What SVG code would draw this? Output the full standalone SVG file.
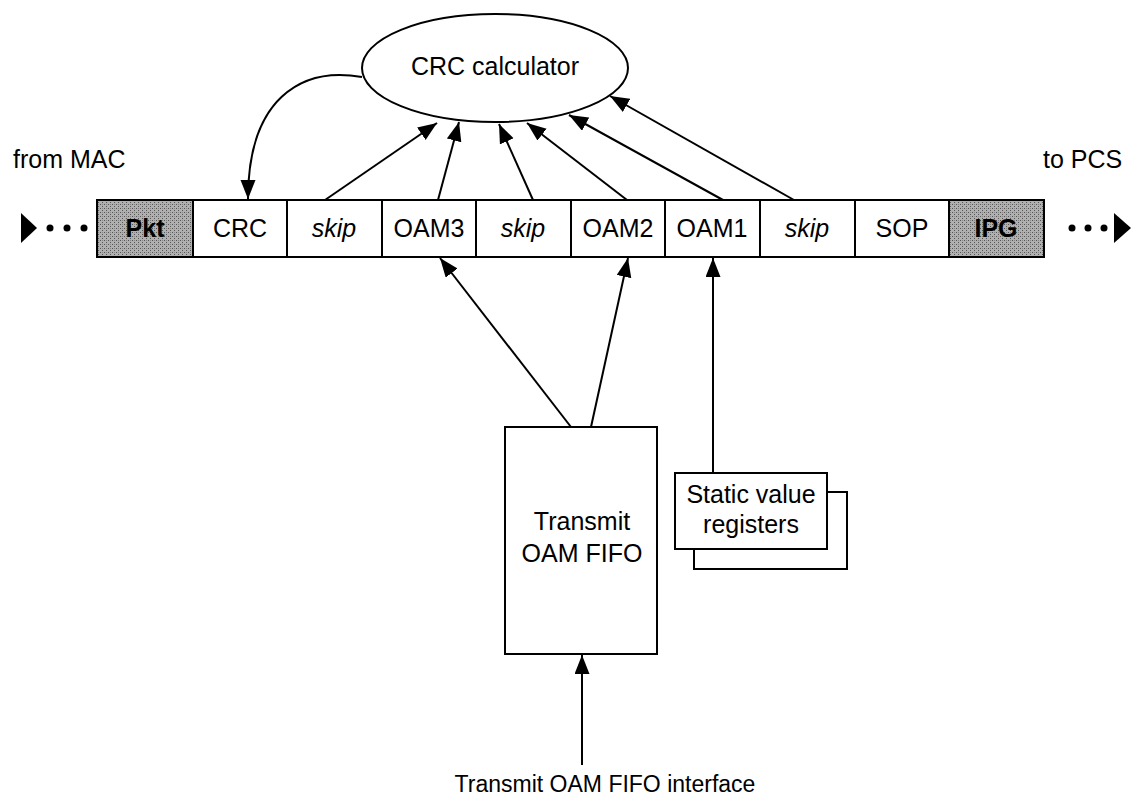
<svg xmlns="http://www.w3.org/2000/svg" width="1133" height="798" viewBox="0 0 1133 798">
<style>
text{font-family:"Liberation Sans",Arial,sans-serif;font-size:25px;fill:#000}
.c{text-anchor:middle}
.cell{fill:#fff;stroke:#000;stroke-width:2}
.shade{fill:url(#dith);stroke:#000;stroke-width:2}
.ln{fill:none;stroke:#000;stroke-width:2}
.box{fill:#fff;stroke:#000;stroke-width:2}
</style>
<defs>
<marker id="ah" markerUnits="userSpaceOnUse" markerWidth="22" markerHeight="16" refX="19" refY="7.5" orient="auto">
<path d="M0,0 L19,7.5 L0,15 Z" fill="#000"/>
</marker>
<pattern id="dith" width="4" height="4" patternUnits="userSpaceOnUse">
<rect width="4" height="4" fill="#b0b0b0"/>
<rect x="0" y="0" width="1" height="1" fill="#555"/>
<rect x="2" y="2" width="1" height="1" fill="#555"/>
<rect x="2" y="0" width="1" height="1" fill="#888"/>
</pattern>
</defs>

<g id="from-mac"><text x="13" y="168">from MAC</text></g>
<g id="to-pcs"><text x="1043" y="168">to PCS</text></g>

<g id="left-dots">
<polygon points="21,213 37,228 21,243" fill="#000"/>
<circle cx="50" cy="228" r="3.5"/><circle cx="67" cy="228" r="3.5"/><circle cx="84" cy="228" r="3.5"/>
</g>
<g id="right-dots">
<circle cx="1072" cy="228" r="3.5"/><circle cx="1088" cy="228" r="3.5"/><circle cx="1104" cy="228" r="3.5"/>
<polygon points="1114,213 1131,228 1114,243" fill="#000"/>
</g>

<g id="cell-pkt"><rect class="shade" x="97" y="200" width="96" height="57"/><text class="c" x="145" y="237" font-weight="bold">Pkt</text></g>
<g id="cell-crc"><rect class="cell" x="193" y="200" width="94" height="57"/><text class="c" x="240" y="237">CRC</text></g>
<g id="cell-skip1"><rect class="cell" x="287" y="200" width="95" height="57"/><text class="c" x="334" y="237" font-style="italic">skip</text></g>
<g id="cell-oam3"><rect class="cell" x="382" y="200" width="94" height="57"/><text class="c" x="429" y="237">OAM3</text></g>
<g id="cell-skip2"><rect class="cell" x="476" y="200" width="95" height="57"/><text class="c" x="523" y="237" font-style="italic">skip</text></g>
<g id="cell-oam2"><rect class="cell" x="571" y="200" width="94" height="57"/><text class="c" x="618" y="237">OAM2</text></g>
<g id="cell-oam1"><rect class="cell" x="665" y="200" width="95" height="57"/><text class="c" x="712" y="237">OAM1</text></g>
<g id="cell-skip3"><rect class="cell" x="760" y="200" width="95" height="57"/><text class="c" x="807" y="237" font-style="italic">skip</text></g>
<g id="cell-sop"><rect class="cell" x="855" y="200" width="94" height="57"/><text class="c" x="902" y="237">SOP</text></g>
<g id="cell-ipg"><rect class="shade" x="949" y="200" width="95" height="57"/><text class="c" x="996" y="237" font-weight="bold">IPG</text></g>

<g id="crc-calculator"><ellipse class="box" cx="495" cy="68" rx="133" ry="54"/><text class="c" x="495" y="75">CRC calculator</text></g>

<g id="fifo"><rect class="box" x="505" y="427" width="152" height="227"/><text class="c" x="582" y="530">Transmit</text><text class="c" x="582" y="562">OAM FIFO</text></g>

<g id="static-registers">
<rect class="box" x="694" y="492" width="153" height="77"/>
<rect class="box" x="675" y="473" width="152" height="76"/>
<text class="c" x="751" y="503">Static value</text><text class="c" x="751" y="533">registers</text>
</g>

<g id="interface-label"><text class="c" x="605" y="792" style="font-size:23px">Transmit OAM FIFO interface</text></g>

<g id="connectors">
<path class="ln" d="M362,77 C300,66 248,100 248,199" marker-end="url(#ah)"/>
<line class="ln" x1="325" y1="200" x2="437" y2="123" marker-end="url(#ah)"/>
<line class="ln" x1="438" y1="200" x2="459" y2="122" marker-end="url(#ah)"/>
<line class="ln" x1="533" y1="200" x2="499" y2="124" marker-end="url(#ah)"/>
<line class="ln" x1="627" y1="200" x2="527" y2="123" marker-end="url(#ah)"/>
<line class="ln" x1="723" y1="200" x2="569" y2="115" marker-end="url(#ah)"/>
<line class="ln" x1="794" y1="200" x2="610" y2="96" marker-end="url(#ah)"/>
<line class="ln" x1="571" y1="427" x2="440" y2="258" marker-end="url(#ah)"/>
<line class="ln" x1="591" y1="427" x2="628" y2="258" marker-end="url(#ah)"/>
<line class="ln" x1="713" y1="473" x2="713" y2="258" marker-end="url(#ah)"/>
<line class="ln" x1="582" y1="765" x2="582" y2="655" marker-end="url(#ah)"/>
</g>
</svg>
